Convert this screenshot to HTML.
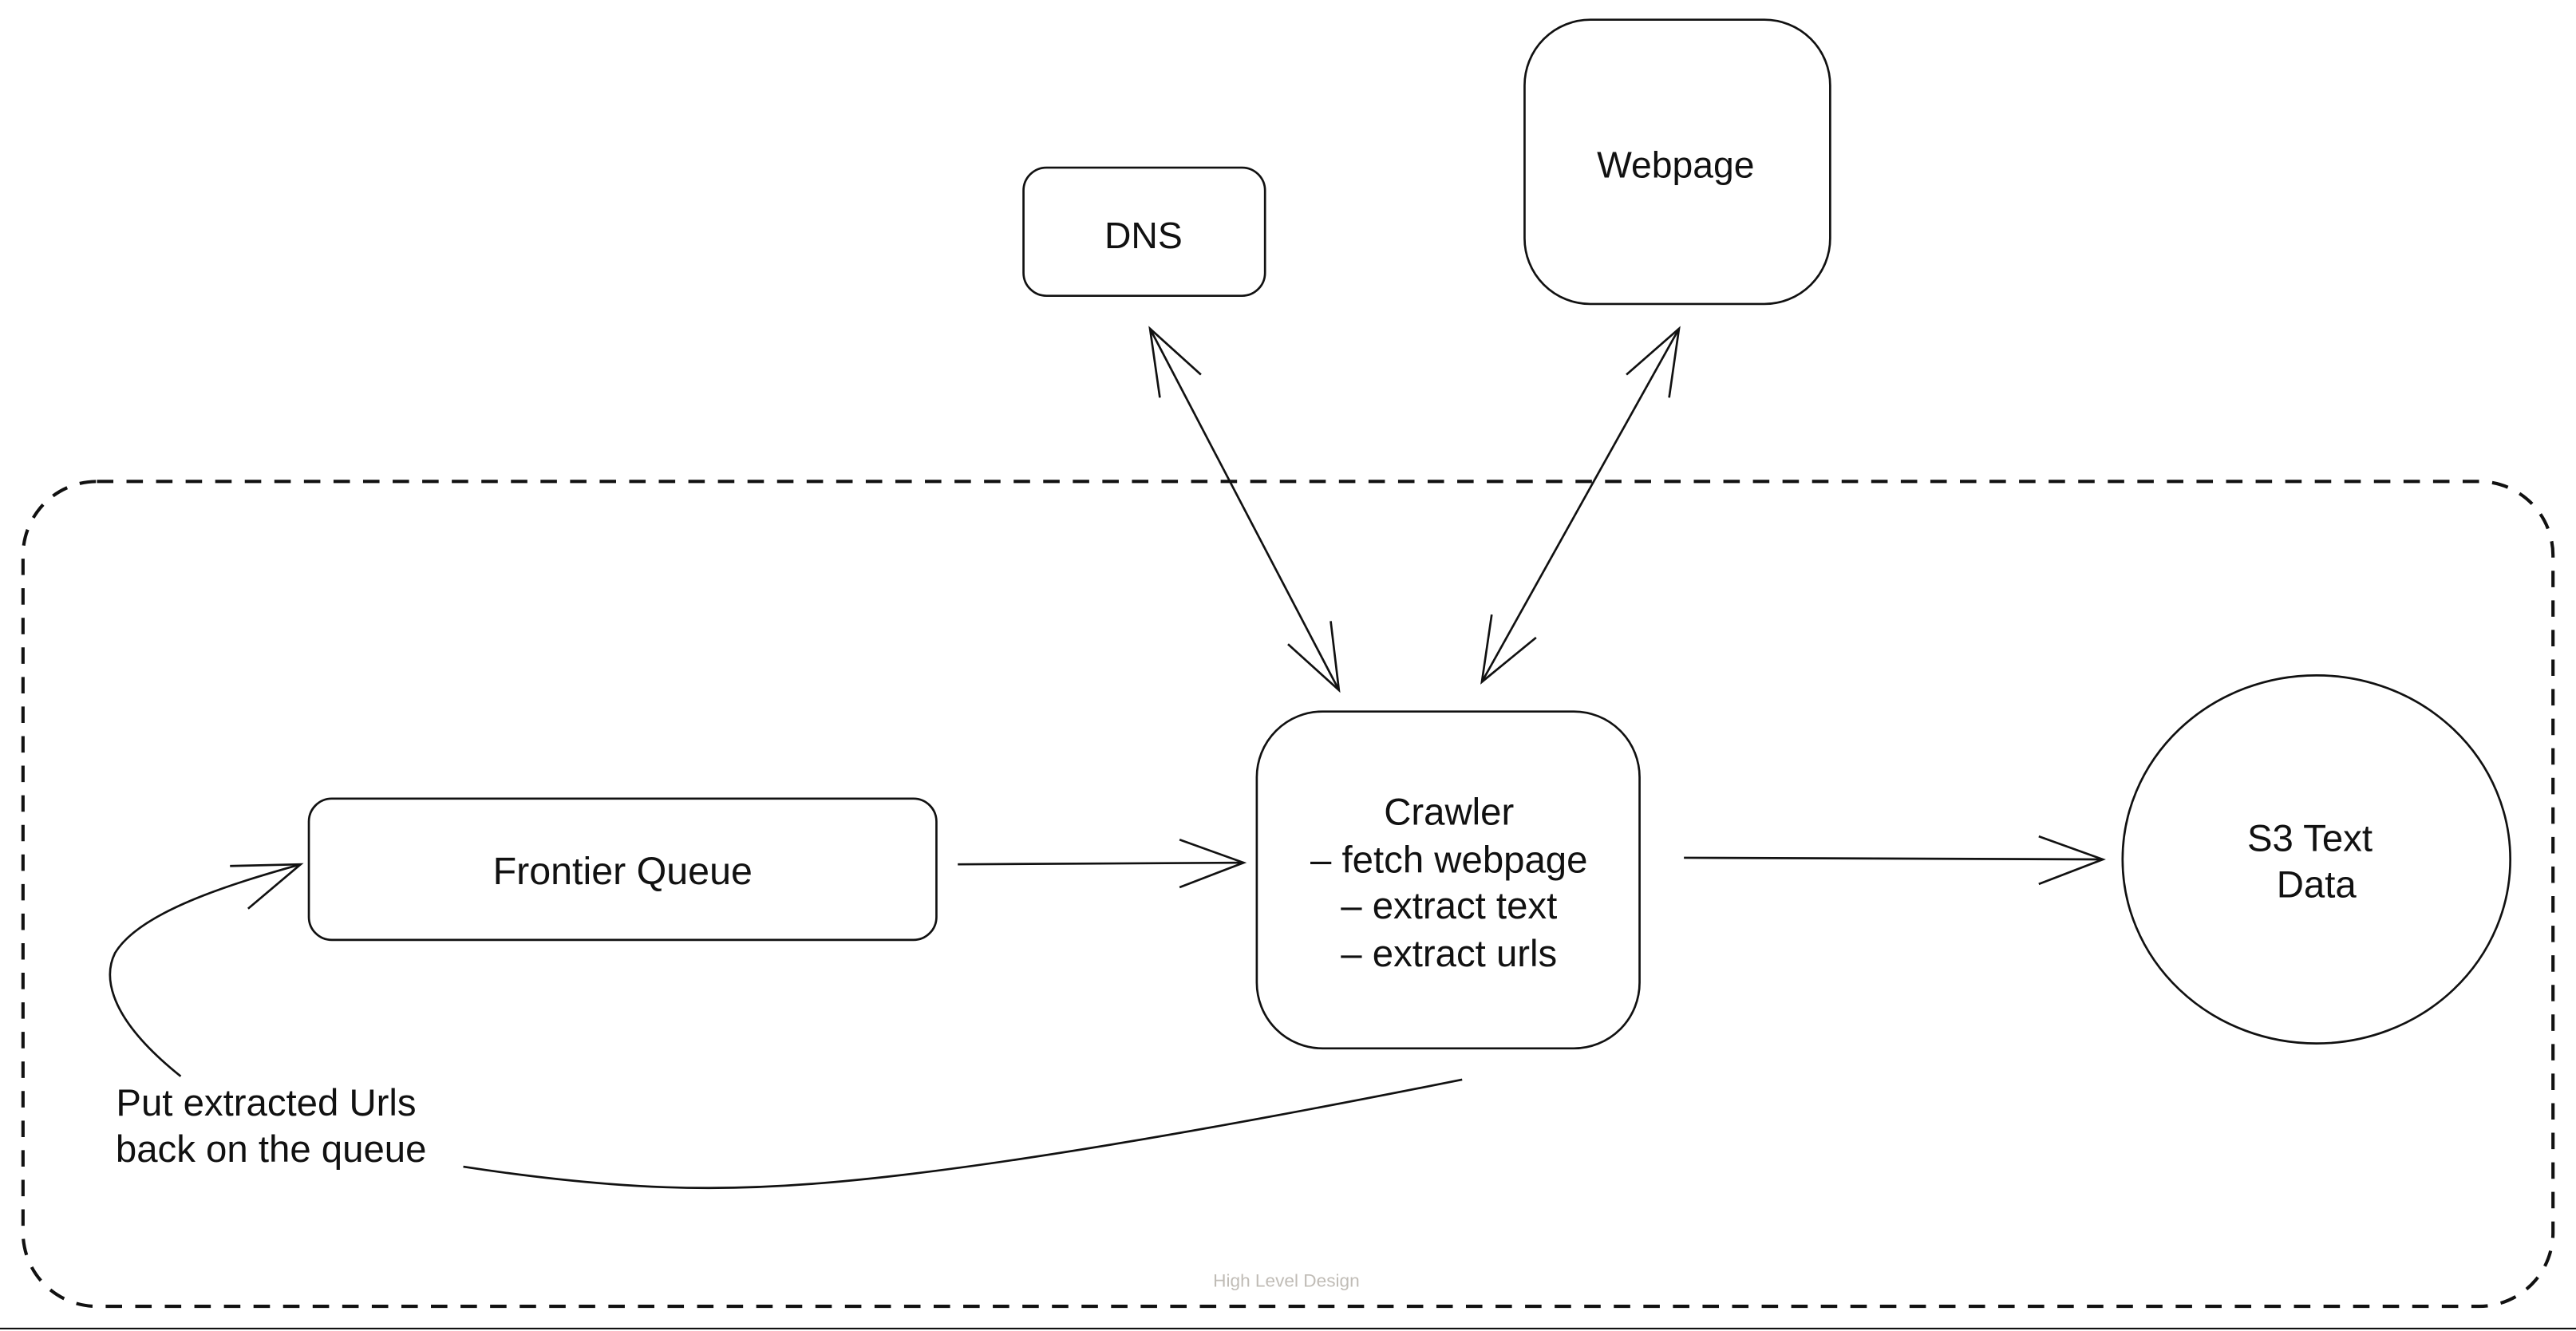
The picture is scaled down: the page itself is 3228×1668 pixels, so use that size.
<!DOCTYPE html>
<html><head><meta charset="utf-8"><style>
html,body{margin:0;padding:0;background:#fff;}
svg{display:block;}
text{font-family:"Liberation Sans",sans-serif;fill:#111;}
</style></head><body>
<svg width="3228" height="1668" viewBox="0 0 1568 810" preserveAspectRatio="none">
<g fill="none" stroke="#111" stroke-width="1.3">
<rect x="14" y="293" width="1540" height="502" rx="45" stroke-dasharray="10 8" stroke-width="2"/>
<rect x="623" y="102" width="147" height="78" rx="14"/>
<rect x="928" y="12" width="186" height="173" rx="40"/>
<rect x="188" y="486" width="382" height="86" rx="14"/>
<rect x="765" y="433" width="233" height="205" rx="40"/>
<ellipse cx="1410" cy="523" rx="118" ry="112"/>
<line x1="700" y1="200" x2="815" y2="420"/>
<polyline points="731,228 700,200 706,242"/>
<polyline points="784,392 815,420 810,378"/>
<line x1="1022" y1="200" x2="902" y2="415"/>
<polyline points="990,228 1022,200 1016,242"/>
<polyline points="935,388 902,415 908,374"/>
<line x1="583" y1="526" x2="757" y2="525"/>
<polyline points="718,511 757,525 718,540"/>
<line x1="1025" y1="522" x2="1280" y2="523"/>
<polyline points="1241,509 1280,523 1241,538"/>
<path d="M110,655 C60,615 65,590 70,580 C85,555 140,538 183,526"/>
<polyline points="140,527 183,526 151,553"/>
<path d="M282,710 C380,725 440,725 500,720 C600,712 750,685 890,657"/>
</g>
<text x="696" y="151" font-size="22.5" text-anchor="middle">DNS</text>
<text x="1020" y="108" font-size="22.5" text-anchor="middle">Webpage</text>
<text x="379" y="538" font-size="23.5" text-anchor="middle">Frontier Queue</text>
<g font-size="23" text-anchor="middle">
<text x="882" y="502">Crawler</text>
<text x="882" y="531">– fetch webpage</text>
<text x="882" y="559">– extract text</text>
<text x="882" y="588">– extract urls</text>
<text x="1406" y="518">S3 Text</text>
<text x="1410" y="546">Data</text>
<text x="162" y="679">Put extracted Urls</text>
<text x="165" y="707">back on the queue</text>
</g>
<text x="783" y="783" font-size="11" text-anchor="middle" style="fill:#c0bcb6">High Level Design</text>
<line x1="0" y1="808.5" x2="1568" y2="808.5" stroke="#111" stroke-width="1"/>
</svg>
</body></html>
